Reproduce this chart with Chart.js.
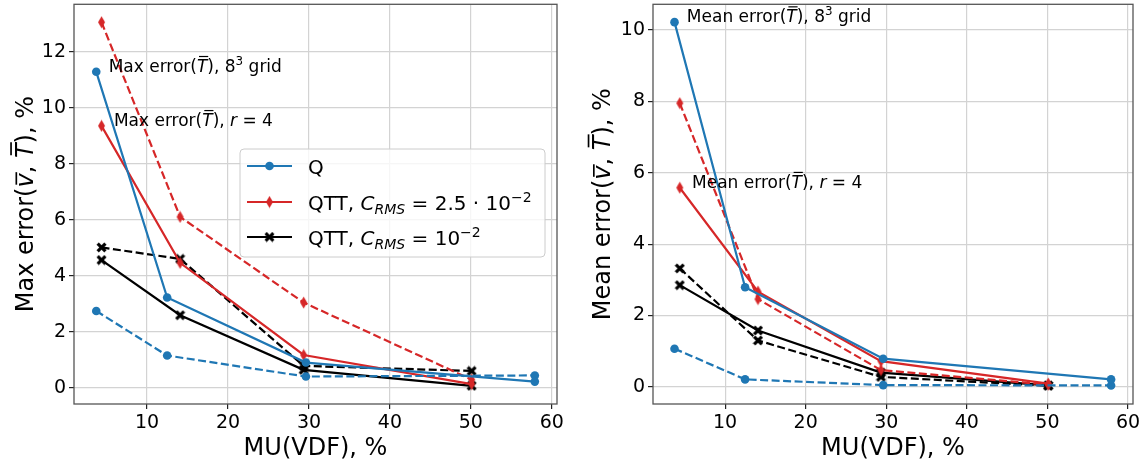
<!DOCTYPE html>
<html lang="en">
<head>
<meta charset="UTF-8">
<title>Max and mean error vs MU(VDF)</title>
<script src="https://cdn.jsdelivr.net/npm/chart.js"></script>
<style>
    body { margin: 0; background: #fff; }
    #wrap { display: flex; width: 1146px; height: 463px; }
    canvas { display: block; }
</style>
</head>
<body>
<div id="wrap">
    <canvas id="max-chart" width="573" height="463"></canvas>
    <canvas id="mean-chart" width="573" height="463"></canvas>
</div>
<script>
// MU(VDF) values, %
const xQ   = [3.72, 12.48, 29.62, 57.9];
const xQTT = [4.37, 14.08, 29.34, 50.1];
const xTicks = [10, 20, 30, 40, 50, 60];

// left panel: max error, solid = T, dashed = v
const maxQ_T     = [11.29, 3.23, 0.91, 0.23];
const maxQ_v     = [2.75, 1.16, 0.41, 0.45];
const maxQTT25_T = [9.36, 4.47, 1.18, 0.14];
const maxQTT25_v = [13.06, 6.11, 3.05, 0.30];
const maxQTT1_T  = [4.57, 2.60, 0.65, 0.08];
const maxQTT1_v  = [5.02, 4.61, 0.79, 0.61];
const maxTicks   = [0, 2, 4, 6, 8, 10, 12];

// right panel: mean error
const meanQ_T     = [10.22, 2.79, 0.79, 0.21];
const meanQ_v     = [1.07, 0.21, 0.05, 0.04];
const meanQTT25_T = [5.58, 2.67, 0.72, 0.09];
const meanQTT25_v = [7.95, 2.46, 0.47, 0.06];
const meanQTT1_T  = [2.85, 1.58, 0.40, 0.04];
const meanQTT1_v  = [3.32, 1.30, 0.28, 0.03];
const meanTicks   = [0, 2, 4, 6, 8, 10];

const FONT = '"DejaVu Sans", sans-serif';
const BLUE = '#1f77b4', RED = '#d62728', BLACK = '#000000';

function makeDiamond(color) {
    const c = document.createElement('canvas');
    c.width = 9; c.height = 13;
    const g = c.getContext('2d');
    g.fillStyle = color;
    g.beginPath();
    g.moveTo(4.5, 0.5); g.lineTo(8, 6.5); g.lineTo(4.5, 12.5); g.lineTo(1, 6.5);
    g.closePath(); g.fill();
    return c;
}
function makeX(color) {
    const c = document.createElement('canvas');
    c.width = 11; c.height = 11;
    const g = c.getContext('2d');
    g.strokeStyle = color; g.lineWidth = 3.2;
    g.beginPath();
    g.moveTo(1.6, 1.6); g.lineTo(9.4, 9.4);
    g.moveTo(9.4, 1.6); g.lineTo(1.6, 9.4);
    g.stroke();
    return c;
}
const diamond = makeDiamond(RED);
const xMark = makeX(BLACK);

function series(xs, ys) {
    return xs.map((x, i) => ({ x: x, y: ys[i] }));
}
function line(xs, ys, color, marker, dashed) {
    return {
        data: series(xs, ys),
        borderColor: color,
        backgroundColor: color,
        borderWidth: 2.2,
        borderDash: dashed ? [8, 3.5] : [],
        pointStyle: marker,
        pointRadius: 4.3,
        pointBorderWidth: 0,
        tension: 0
    };
}

// rich text: segments {t, it, sub, sup, bar}
function drawRich(ctx, segs, x, y, size) {
    let cx = x;
    segs.forEach(s => {
        const sz = (s.sub || s.sup) ? size * 0.7 : size;
        ctx.font = (s.it ? 'italic ' : '') + sz + 'px ' + FONT;
        const dy = s.sub ? size * 0.22 : (s.sup ? -size * 0.4 : 0);
        ctx.fillText(s.t, cx, y + dy);
        const w = ctx.measureText(s.t).width;
        if (s.bar) {
            const by = y - (s.bar === 'low' ? size * 0.68 : size * 0.9);
            ctx.save();
            ctx.lineWidth = size * 0.07;
            ctx.strokeStyle = ctx.fillStyle;
            ctx.beginPath();
            ctx.moveTo(cx + size * 0.12, by);
            ctx.lineTo(cx + w + size * 0.05, by);
            ctx.stroke();
            ctx.restore();
        }
        cx += w;
    });
    return cx - x;
}
function richWidth(ctx, segs, size) {
    let w = 0;
    segs.forEach(s => {
        const sz = (s.sub || s.sup) ? size * 0.7 : size;
        ctx.font = (s.it ? 'italic ' : '') + sz + 'px ' + FONT;
        w += ctx.measureText(s.t).width;
    });
    return w;
}

const decor = {
    id: 'decor',
    afterDraw(chart, args, opts) {
        const ctx = chart.ctx;
        const a = chart.chartArea;
        ctx.save();
        ctx.textAlign = 'left';
        ctx.textBaseline = 'alphabetic';

        // frame
        ctx.strokeStyle = '#555';
        ctx.lineWidth = 1.3;
        ctx.strokeRect(a.left, a.top, a.right - a.left, a.bottom - a.top);

        // axis titles
        const ts = 24;
        ctx.fillStyle = '#000';
        const xw = richWidth(ctx, opts.xTitle, ts);
        drawRich(ctx, opts.xTitle, (a.left + a.right) / 2 - xw / 2, 455, ts);
        ctx.save();
        ctx.translate(opts.yTitleX, (a.top + a.bottom) / 2);
        ctx.rotate(-Math.PI / 2);
        const yw = richWidth(ctx, opts.yTitle, ts);
        drawRich(ctx, opts.yTitle, -yw / 2, ts * 0.36, ts);
        ctx.restore();

        // annotations, placed in data coordinates
        const sx = chart.scales.x, sy = chart.scales.y;
        opts.notes.forEach(n => {
            drawRich(ctx, n.segs, sx.getPixelForValue(n.x), sy.getPixelForValue(n.y), 17);
        });

        // legend
        if (opts.legend) {
            const L = opts.legend;
            ctx.beginPath();
            ctx.roundRect(L.x, L.y, L.w, L.h, 4);
            ctx.fillStyle = 'rgba(255,255,255,0.8)';
            ctx.fill();
            ctx.strokeStyle = '#cccccc';
            ctx.lineWidth = 1;
            ctx.stroke();
            L.items.forEach((it, i) => {
                const ry = L.rows[i];
                ctx.strokeStyle = it.color;
                ctx.lineWidth = 2.2;
                ctx.beginPath();
                ctx.moveTo(L.x + 7, ry);
                ctx.lineTo(L.x + 52, ry);
                ctx.stroke();
                const mx = L.x + 29.5;
                if (it.marker === 'circle') {
                    ctx.fillStyle = it.color;
                    ctx.beginPath();
                    ctx.arc(mx, ry, 4.3, 0, Math.PI * 2);
                    ctx.fill();
                } else {
                    ctx.drawImage(it.marker, mx - it.marker.width / 2, ry - it.marker.height / 2);
                }
                ctx.fillStyle = '#000';
                drawRich(ctx, it.segs, L.x + 68, ry + 7.5, 20);
            });
        }
        ctx.restore();
    }
};

function makeScales(xMin, xMax, yMin, yMax, yTicks, yWidth) {
    const grid = { color: '#d3d3d3', lineWidth: 1.2, tickColor: '#222', tickLength: 5, drawTicks: true };
    const ticks = { font: { family: FONT, size: 19 }, color: '#000', padding: 3, autoSkip: false, maxRotation: 0 };
    return {
        x: {
            type: 'linear', min: xMin, max: xMax,
            afterBuildTicks: s => { s.ticks = xTicks.map(v => ({ value: v })); },
            afterFit: s => { s.height = 59; s.paddingLeft = 0; s.paddingRight = 0; },
            grid: grid, border: { display: false }, ticks: ticks
        },
        y: {
            type: 'linear', min: yMin, max: yMax,
            afterBuildTicks: s => { s.ticks = yTicks.map(v => ({ value: v })); },
            afterFit: s => { s.width = yWidth; s.paddingTop = 0; s.paddingBottom = 0; },
            grid: grid, border: { display: false }, ticks: ticks
        }
    };
}

const T = { t: 'T', it: true, bar: 'high' };
const V = { t: 'v', it: true, bar: 'low' };

new Chart(document.getElementById('max-chart'), {
    type: 'line',
    data: {
        datasets: [
            line(xQ, maxQ_T, BLUE, 'circle', false),
            line(xQ, maxQ_v, BLUE, 'circle', true),
            line(xQTT, maxQTT25_T, RED, diamond, false),
            line(xQTT, maxQTT25_v, RED, diamond, true),
            line(xQTT, maxQTT1_T, BLACK, xMark, false),
            line(xQTT, maxQTT1_v, BLACK, xMark, true)
        ]
    },
    options: {
        responsive: false,
        animation: false,
        layout: { padding: { top: 2, right: 16, left: 0, bottom: 0 } },
        scales: makeScales(0.97, 60.64, -0.57, 13.7, maxTicks, 74),
        plugins: {
            legend: { display: false },
            tooltip: { enabled: false },
            decor: {
                xTitle: [{ t: 'MU(VDF), %' }],
                yTitle: [{ t: 'Max error(' }, V, { t: ', ' }, T, { t: '), %' }],
                yTitleX: 24,
                notes: [
                    { x: 5.25, y: 11.29, segs: [{ t: 'Max error(' }, T, { t: '), 8' }, { t: '3', sup: true }, { t: ' grid' }] },
                    { x: 5.9, y: 9.36, segs: [{ t: 'Max error(' }, T, { t: '), ' }, { t: 'r', it: true }, { t: ' = 4' }] }
                ],
                legend: {
                    x: 240, y: 149, w: 305, h: 108,
                    rows: [166, 202, 237],
                    items: [
                        { color: BLUE, marker: 'circle', segs: [{ t: 'Q' }] },
                        { color: RED, marker: diamond, segs: [{ t: 'QTT, ' }, { t: 'C', it: true }, { t: 'RMS', it: true, sub: true }, { t: ' = 2.5 · 10' }, { t: '−2', sup: true }] },
                        { color: BLACK, marker: xMark, segs: [{ t: 'QTT, ' }, { t: 'C', it: true }, { t: 'RMS', it: true, sub: true }, { t: ' = 10' }, { t: '−2', sup: true }] }
                    ]
                }
            }
        }
    },
    plugins: [decor]
});

new Chart(document.getElementById('mean-chart'), {
    type: 'line',
    data: {
        datasets: [
            line(xQ, meanQ_T, BLUE, 'circle', false),
            line(xQ, meanQ_v, BLUE, 'circle', true),
            line(xQTT, meanQTT25_T, RED, diamond, false),
            line(xQTT, meanQTT25_v, RED, diamond, true),
            line(xQTT, meanQTT1_T, BLACK, xMark, false),
            line(xQTT, meanQTT1_v, BLACK, xMark, true)
        ]
    },
    options: {
        responsive: false,
        animation: false,
        layout: { padding: { top: 2, right: 13, left: 0, bottom: 0 } },
        scales: makeScales(1.05, 60.62, -0.48, 10.72, meanTicks, 80),
        plugins: {
            legend: { display: false },
            tooltip: { enabled: false },
            decor: {
                xTitle: [{ t: 'MU(VDF), %' }],
                yTitle: [{ t: 'Mean error(' }, V, { t: ', ' }, T, { t: '), %' }],
                yTitleX: 28.5,
                notes: [
                    { x: 5.25, y: 10.22, segs: [{ t: 'Mean error(' }, T, { t: '), 8' }, { t: '3', sup: true }, { t: ' grid' }] },
                    { x: 5.9, y: 5.58, segs: [{ t: 'Mean error(' }, T, { t: '), ' }, { t: 'r', it: true }, { t: ' = 4' }] }
                ]
            }
        }
    },
    plugins: [decor]
});
</script>
</body>
</html>
